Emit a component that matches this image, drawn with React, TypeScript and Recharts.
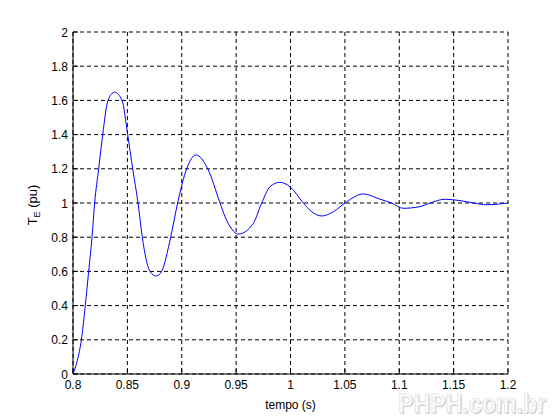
import React from 'react';
import { LineChart, Line, XAxis, YAxis, CartesianGrid } from 'recharts';

// tempo (s) e torque elétrico (pu)
const tempo = [
  0.8, 0.804, 0.8077, 0.8113, 0.8144, 0.8175, 0.8199, 0.8236, 0.8273, 0.8322, 0.8382,
  0.8451, 0.8503, 0.8549, 0.8598, 0.8637, 0.8708, 0.8763, 0.8815, 0.8898, 0.8962,
  0.9045, 0.9131, 0.9239, 0.9352, 0.9398, 0.9459, 0.952, 0.9658, 0.9735, 0.9811,
  0.9903, 0.9995, 1.0118, 1.0195, 1.0287, 1.0394, 1.0501, 1.067, 1.0823, 1.093,
  1.1037, 1.1191, 1.1283, 1.1421, 1.1559, 1.1681, 1.1804, 1.2,
];
const torque = [
  0, 0.08, 0.2, 0.4, 0.6, 0.8, 1.0, 1.2, 1.4, 1.6, 1.648,
  1.6, 1.4, 1.2, 1.0, 0.8, 0.6, 0.573, 0.6, 0.8, 1.0,
  1.2, 1.281, 1.2, 1.0, 0.92, 0.848, 0.818, 0.881, 1.0, 1.095,
  1.121, 1.095, 1.0, 0.949, 0.924, 0.949, 1.0, 1.053, 1.022, 1.0,
  0.969, 0.979, 1.0, 1.022, 1.014, 1.0, 0.99, 1.0,
];
const xTicks = [0.8, 0.85, 0.9, 0.95, 1, 1.05, 1.1, 1.15, 1.2];
const yTicks = [0, 0.2, 0.4, 0.6, 0.8, 1, 1.2, 1.4, 1.6, 1.8, 2];

const data = tempo.map((t, i) => ({ t, v: torque[i] }));

const FONT = 'Liberation Sans, Arial, sans-serif';

const BottomTick = (props: any) => {
  const { x, y, payload } = props;
  return (
    <g>
      <line x1={x} x2={x} y1={y} y2={y - 5} stroke="#000" />
      <text x={x} y={y + 15} textAnchor="middle" fontSize={12} fontFamily={FONT} fill="#000">
        {String(payload.value)}
      </text>
    </g>
  );
};

const LeftTick = (props: any) => {
  const { x, y, payload } = props;
  return (
    <g>
      <line x1={x} x2={x + 5} y1={y} y2={y} stroke="#000" />
      <text x={x - 5} y={y + 4.5} textAnchor="end" fontSize={12} fontFamily={FONT} fill="#000">
        {String(payload.value)}
      </text>
    </g>
  );
};

const YLabel = () => (
  <text
    transform="translate(37,205) rotate(-90)"
    textAnchor="middle"
    fontSize={13}
    fontFamily={FONT}
    fill="#000"
  >
    T<tspan fontSize={9} dy={3}>E</tspan>
    <tspan dy={-3}> (pu)</tspan>
  </text>
);

export default function App() {
  return (
    <div style={{ position: 'absolute', left: 0, top: 0, width: 560, height: 420, background: '#fff' }}>
      <LineChart width={560} height={420} data={data} margin={{ top: 32, right: 52, bottom: 0, left: 25 }}>
        <CartesianGrid stroke="#000" strokeDasharray="4 3" horizontalValues={yTicks} verticalValues={xTicks} />
        <XAxis
          dataKey="t"
          type="number"
          domain={[0.8, 1.2]}
          ticks={xTicks}
          allowDataOverflow
          height={46}
          stroke="#000"
          tickLine={false}
          tickSize={0}
          tickMargin={0}
          tick={<BottomTick />}
          label={{ value: 'tempo (s)', position: 'insideBottom', offset: 11, fill: '#000', fontSize: 12, fontFamily: FONT }}
        />
        <XAxis xAxisId="top" orientation="top" dataKey="t" type="number" domain={[0.8, 1.2]} ticks={xTicks} height={0} stroke="#000" tick={false} tickLine={false} />
        <YAxis
          type="number"
          domain={[0, 2]}
          ticks={yTicks}
          width={48}
          stroke="#000"
          tickLine={false}
          tickSize={0}
          tickMargin={0}
          tick={<LeftTick />}
          label={<YLabel />}
        />
        <YAxis yAxisId="right" orientation="right" domain={[0, 2]} width={0} stroke="#000" tick={false} tickLine={false} />
        <Line type="monotone" dataKey="v" stroke="#0000ff" strokeWidth={1} dot={false} isAnimationActive={false} />
      </LineChart>
      <svg width={560} height={420} style={{ position: 'absolute', left: 0, top: 0, pointerEvents: 'none' }}>
        <text x={399} y={414} fontSize={27} fontWeight="bold" fontFamily={FONT} textLength={148} lengthAdjust="spacingAndGlyphs" fill="#c8c8c8">
          PHPH.com.br
        </text>
        <text x={398} y={413} fontSize={27} fontWeight="bold" fontFamily={FONT} textLength={148} lengthAdjust="spacingAndGlyphs" fill="#fafafa" stroke="#dcdcdc" strokeWidth={0.6}>
          PHPH.com.br
        </text>
      </svg>
    </div>
  );
}
